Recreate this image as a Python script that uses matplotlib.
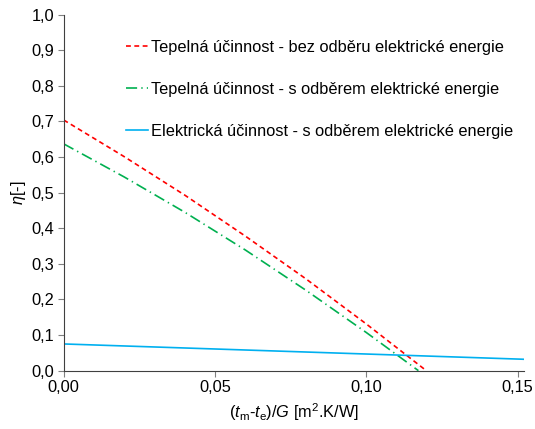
import numpy as np
import matplotlib
matplotlib.use("Agg")
import matplotlib.pyplot as plt

plt.rcParams['font.family'] = ['Liberation Sans', 'DejaVu Sans']
plt.rcParams['mathtext.fontset'] = 'custom'
plt.rcParams['mathtext.rm'] = 'Liberation Sans'
plt.rcParams['mathtext.it'] = 'Liberation Sans:italic'
plt.rcParams['lines.scale_dashes'] = False

# data
x_red = [0.0, 0.02, 0.04, 0.06, 0.08, 0.10, 0.1198]
eta_red = [0.704, 0.601, 0.493, 0.378, 0.258, 0.131, 0.0]

x_green = [0.0, 0.02, 0.04, 0.06, 0.08, 0.10, 0.1172]
eta_green = [0.637, 0.544, 0.445, 0.339, 0.226, 0.107, 0.0]

x_blue = [0.0, 0.152]
eta_blue = [0.075, 0.032]

labels = ["Tepelná účinnost - bez odběru elektrické energie",
          "Tepelná účinnost - s odběrem elektrické energie",
          "Elektrická účinnost - s odběrem elektrické energie"]

xticks = [0.0, 0.05, 0.10, 0.15]
xticklabels = ["0,00", "0,05", "0,10", "0,15"]
yticks = [0.0, 0.1, 0.2, 0.3, 0.4, 0.5, 0.6, 0.7, 0.8, 0.9, 1.0]
yticklabels = ["0,0", "0,1", "0,2", "0,3", "0,4", "0,5", "0,6", "0,7", "0,8", "0,9", "1,0"]

fs = 11.8

fig = plt.figure(figsize=(5.35, 4.29), dpi=100)
ax = fig.add_axes([0.119, 0.136, 0.860, 0.830])

l1, = ax.plot(x_red, eta_red, color='#FF0000', lw=1.2, label=labels[0])
l1.set_dashes((3.5, 2.5))
l2, = ax.plot(x_green, eta_green, color='#00B050', lw=1.2, label=labels[1])
l2.set_dashes((8, 3, 1, 3))
l3, = ax.plot(x_blue, eta_blue, color='#00B0F0', lw=1.2, label=labels[2])

ax.set_xlim(0, 0.152)
ax.set_ylim(0, 1.0)
ax.set_xticks(xticks)
ax.set_xticklabels(xticklabels)
ax.set_yticks(yticks)
ax.set_yticklabels(yticklabels)
ax.tick_params(labelsize=fs, length=4, color='#808080', direction='out', pad=3)
for s in ['top', 'right']:
    ax.spines[s].set_visible(False)
for s in ['left', 'bottom']:
    ax.spines[s].set_color('#404040')
    ax.spines[s].set_linewidth(0.8)

ax.set_ylabel(r'$\eta$[-]', fontsize=fs, labelpad=2)
ax.set_xlabel(r'$(t_\mathrm{m}$-$t_\mathrm{e})/G$ [m$^2$.K/W]', fontsize=fs, labelpad=4)

fig.legend(handles=[l1, l2, l3], loc='upper left', bbox_to_anchor=(126/535, 1 - 40/429),
           frameon=False, fontsize=fs, borderpad=0, borderaxespad=0,
           labelspacing=1.65, handlelength=1.35, handletextpad=0.2)

fig.savefig('out.png', dpi=100)
